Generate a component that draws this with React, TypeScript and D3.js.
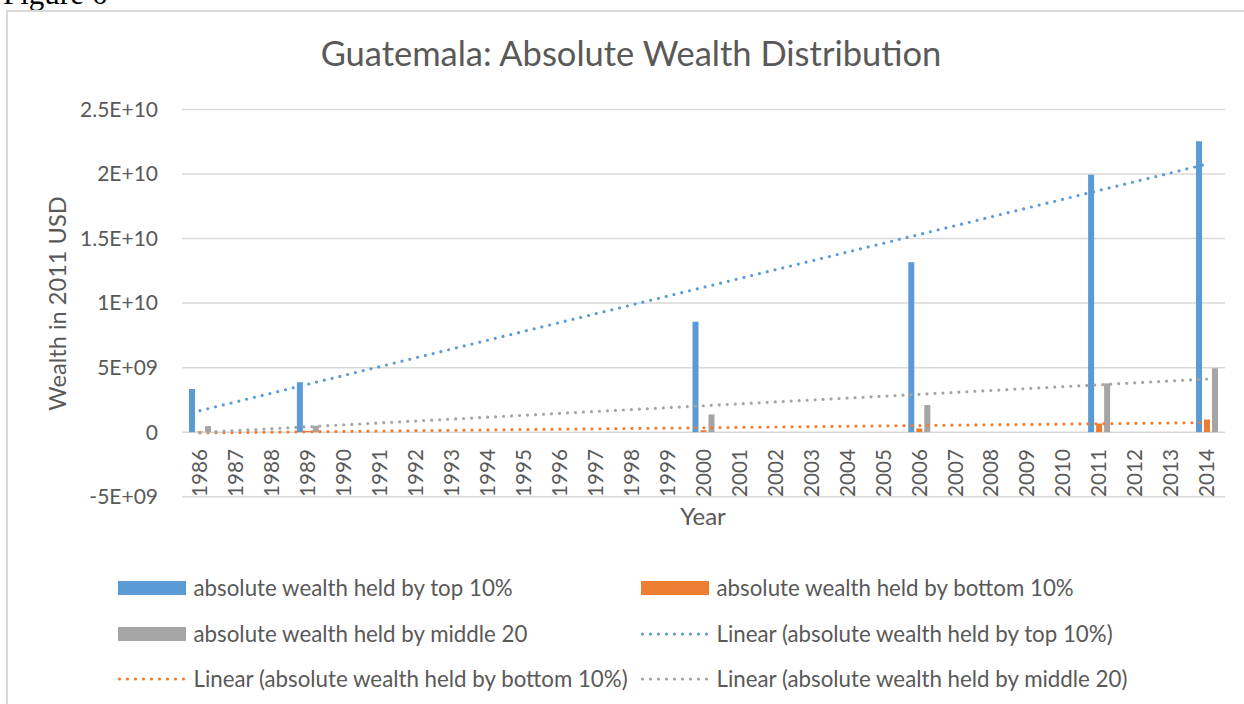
import React from "react";
import * as d3 from "d3";

const years: string[] = [
  "1986","1987","1988","1989","1990","1991","1992","1993","1994","1995",
  "1996","1997","1998","1999","2000","2001","2002","2003","2004","2005",
  "2006","2007","2008","2009","2010","2011","2012","2013","2014",
];
const dataYears = ["1986", "1989", "2000", "2006", "2011", "2014"];
const top10 = [3.34e9, 3.87e9, 8.56e9, 1.317e10, 1.995e10, 2.254e10];
const bottom10 = [0.05e9, 0.09e9, 0.15e9, 0.29e9, 0.67e9, 0.98e9];
const middle20 = [0.47e9, 0.5e9, 1.37e9, 2.1e9, 3.78e9, 4.95e9];
const yTicks = [-5e9, 0, 5e9, 1e10, 1.5e10, 2e10, 2.5e10];
const yTickLabels = ["-5E+09", "0", "5E+09", "1E+10", "1.5E+10", "2E+10", "2.5E+10"];

const seriesNames = ["top", "bottom", "middle"];
const seriesLabels = [
  "absolute wealth held by top 10%",
  "absolute wealth held by bottom 10%",
  "absolute wealth held by middle 20",
];
const colors = ["#5b9bd5", "#ed7d31", "#a5a5a5"];
const seriesValues = [top10, bottom10, middle20];

const FONT = "Lato, 'Open Sans', sans-serif";
const TXT = "#595959";
const GRID = "#d9d9d9";

function regression(vals: number[]) {
  const xs = dataYears.map((y) => years.indexOf(y));
  const n = xs.length;
  const mx = d3.mean(xs)!;
  const my = d3.mean(vals)!;
  let sxy = 0, sxx = 0;
  for (let i = 0; i < n; i++) {
    sxy += (xs[i] - mx) * (vals[i] - my);
    sxx += (xs[i] - mx) ** 2;
  }
  const slope = sxy / sxx;
  const icpt = my - slope * mx;
  return (i: number) => icpt + slope * i;
}

export default function App() {
  const W = 1244, H = 704;
  const x = d3.scaleBand<string>().domain(years).range([182, 1225]).paddingInner(0).paddingOuter(0);
  const y = d3.scaleLinear().domain([-5e9, 2.5e10]).range([496.7, 109.5]);
  const xs = d3.scaleBand<string>().domain(seriesNames).range([-11, 11]).paddingInner(0.25).paddingOuter(0);
  const cx = (yr: string) => x(yr)! + x.bandwidth() / 2;
  const dotted = { strokeWidth: 3.2, strokeLinecap: "round" as const, strokeDasharray: "0 8" };

  const legend = [
    { kind: "bar", color: colors[0], label: seriesLabels[0], lx: 118, ly: 588 },
    { kind: "bar", color: colors[1], label: seriesLabels[1], lx: 641, ly: 588 },
    { kind: "bar", color: colors[2], label: seriesLabels[2], lx: 118, ly: 634 },
    { kind: "line", color: colors[0], label: "Linear (" + seriesLabels[0] + ")", lx: 641, ly: 634 },
    { kind: "line", color: colors[1], label: "Linear (" + seriesLabels[1] + ")", lx: 118, ly: 679 },
    { kind: "line", color: colors[2], label: "Linear (" + seriesLabels[2] + ")", lx: 641, ly: 679 },
  ];

  return (
    <svg width={W} height={H} style={{ position: "absolute", left: 0, top: 0, background: "#fff" }}>
      <text x={3} y={4} fontFamily="'Times New Roman', 'Liberation Serif', serif" fontSize={31} fill="#000">Figure 6</text>
      <rect x={7} y={11} width={1300} height={800} fill="#fff" stroke={GRID} strokeWidth={2} />
      <text x={631} y={66} textAnchor="middle" fontFamily={FONT} fontSize={34.5} fill={TXT}>
        Guatemala: Absolute Wealth Distribution
      </text>
      {yTicks.map((t, i) => (
        <g key={t}>
          <line x1={182} x2={1225} y1={y(t)} y2={y(t)} stroke={GRID} strokeWidth={1.5} />
          <text x={158} y={y(t)} dy="0.35em" textAnchor="end" fontFamily={FONT} fontSize={21} fill={TXT}>
            {yTickLabels[i]}
          </text>
        </g>
      ))}
      <text transform="translate(66,303.5) rotate(-90)" textAnchor="middle" fontFamily={FONT} fontSize={23.6} fill={TXT}>
        Wealth in 2011 USD
      </text>
      {years.map((yr) => (
        <text key={yr} transform={`translate(${cx(yr)},449) rotate(-90)`} dy="0.35em" textAnchor="end"
          fontFamily={FONT} fontSize={20.7} fill={TXT}>{yr}</text>
      ))}
      <text x={703} y={525} textAnchor="middle" fontFamily={FONT} fontSize={24} fill={TXT}>Year</text>
      {seriesValues.map((vals, si) =>
        vals.map((v, i) => {
          const yr = dataYears[i];
          const x0 = cx(yr) + xs(seriesNames[si])!;
          return (
            <rect key={si + "-" + yr} x={x0} width={xs.bandwidth()}
              y={Math.min(y(v), y(0))} height={Math.abs(y(v) - y(0))} fill={colors[si]} />
          );
        })
      )}
      {seriesValues.map((vals, si) => {
        const f = regression(vals);
        const i0 = 0, i1 = years.length - 1;
        return (
          <line key={"t" + si} x1={cx(years[i0])} y1={y(f(i0))} x2={cx(years[i1])} y2={y(f(i1))}
            stroke={colors[si]} {...dotted} />
        );
      })}
      {legend.map((l, i) => (
        <g key={i}>
          {l.kind === "bar" ? (
            <rect x={l.lx} y={l.ly - 7} width={68} height={14} fill={l.color} />
          ) : (
            <line x1={l.lx + 1.5} x2={l.lx + 68} y1={l.ly} y2={l.ly} stroke={l.color} {...dotted} />
          )}
          <text x={l.lx + 75.5} y={l.ly} dy="0.35em" fontFamily={FONT} fontSize={22.3} fill={TXT}>{l.label}</text>
        </g>
      ))}
    </svg>
  );
}
